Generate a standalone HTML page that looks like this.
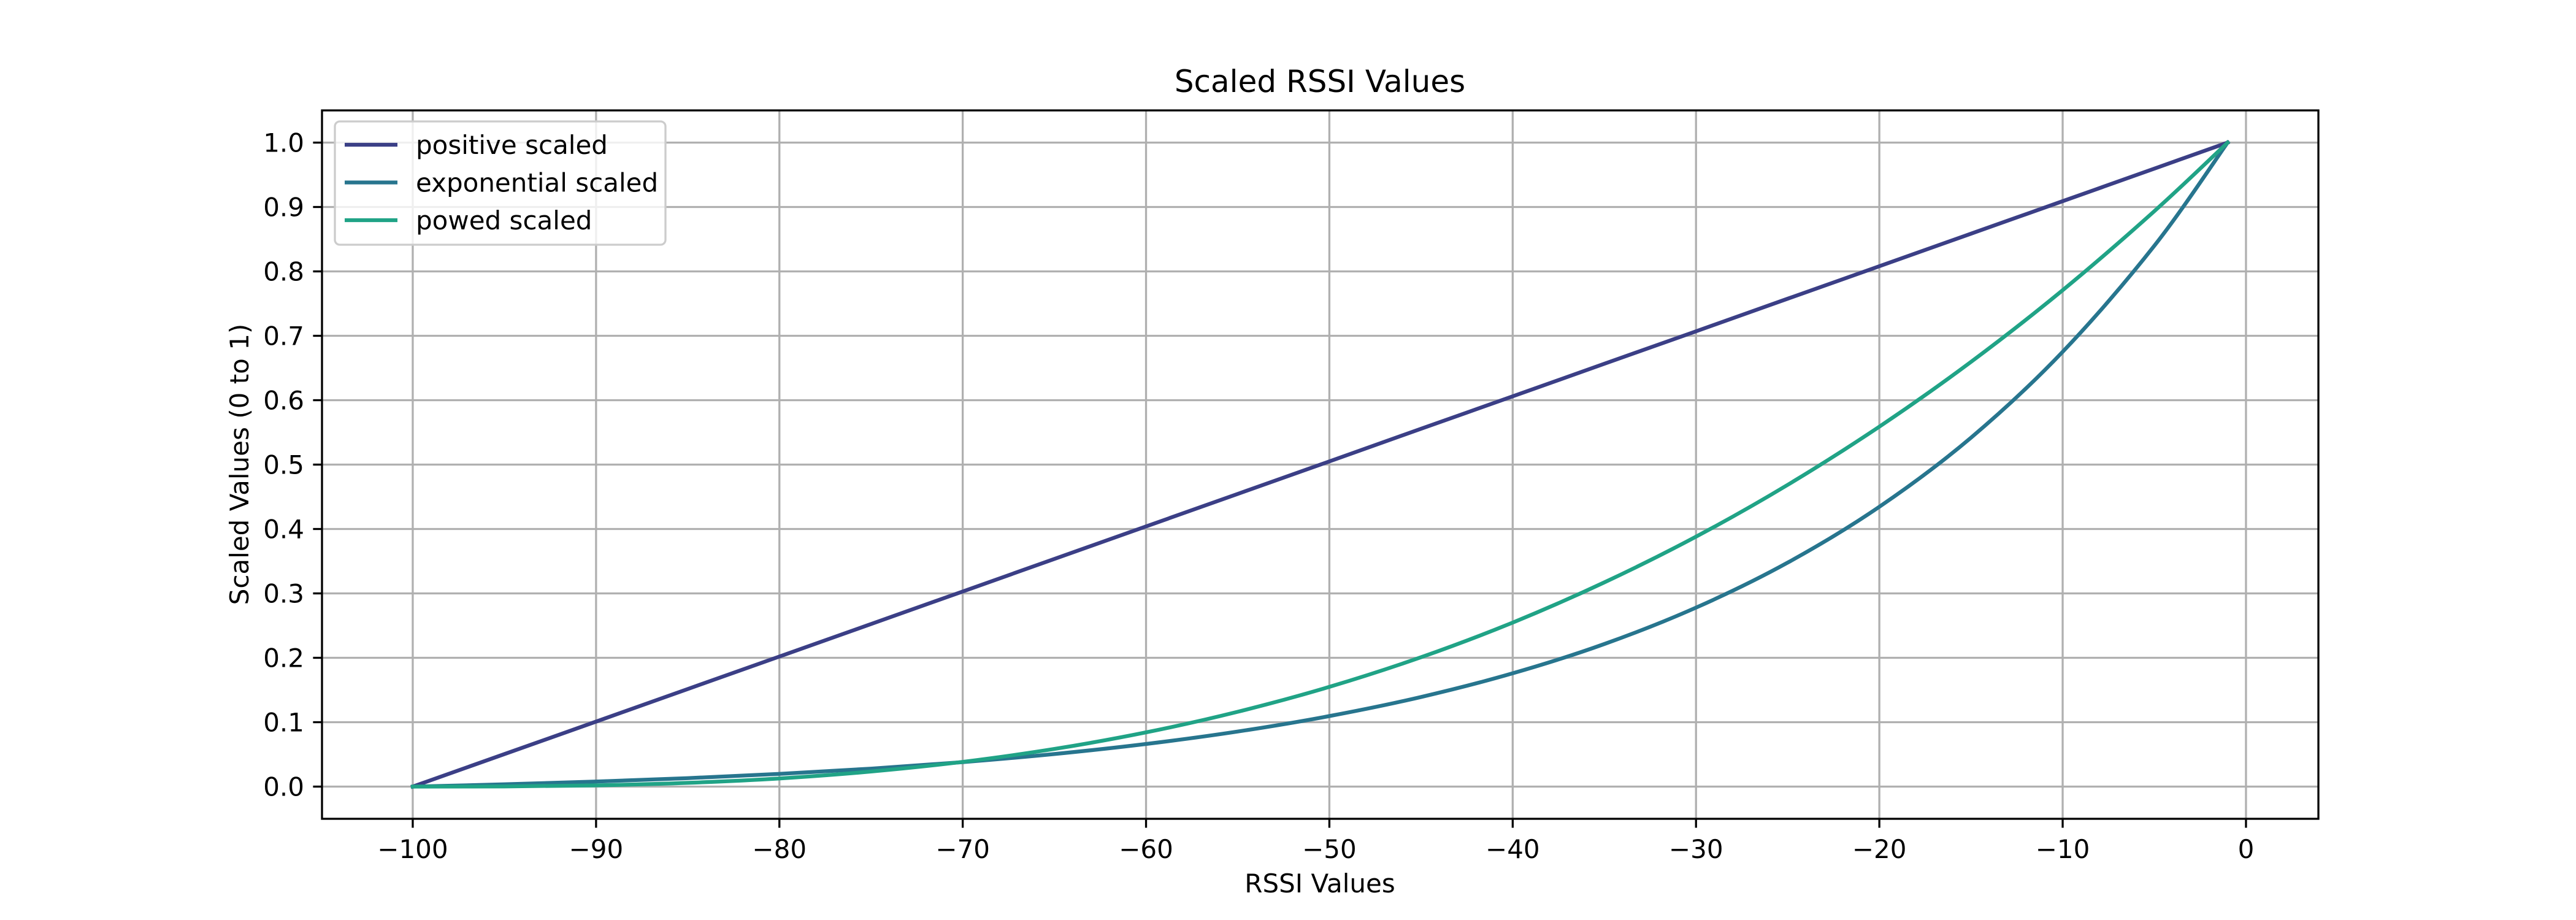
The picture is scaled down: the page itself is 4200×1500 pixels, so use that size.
<!DOCTYPE html>
<html>
<head>
<meta charset="utf-8">
<style>
html,body{margin:0;padding:0;background:#fff;}
svg{display:block;font-family:"DejaVu Sans","Liberation Sans",sans-serif;}
</style>
</head>
<body>
<svg id="chart" width="4200" height="1500" viewBox="0 0 4200 1500" xmlns="http://www.w3.org/2000/svg">
<rect x="0" y="0" width="4200" height="1500" fill="#ffffff"/>
<g id="grid"></g>
<g id="series"></g>
<rect x="525" y="180" width="3255" height="1155" fill="none" stroke="#000" stroke-width="3.3"/>
<g id="xticks"></g>
<g id="yticks"></g>
<text x="2152" y="150" font-size="50" text-anchor="middle">Scaled RSSI Values</text>
<text x="2152" y="1455" font-size="42" text-anchor="middle">RSSI Values</text>
<text x="405" y="757" font-size="42" text-anchor="middle" transform="rotate(-90 405 757)">Scaled Values (0 to 1)</text>
<g id="legend"></g>
</svg>
<script>
const rssi = [-100,-95,-90,-85,-80,-75,-70,-65,-60,-55,-50,-45,-40,-35,-30,-25,-20,-15,-10,-5,-1];
const positiveScaled = [0,0.0505,0.101,0.1515,0.202,0.2525,0.303,0.3535,0.404,0.4545,0.505,0.5556,0.606,0.6566,0.707,0.7576,0.808,0.8586,0.909,0.9596,1];
const exponentialScaled = [0,0.0035,0.0078,0.0131,0.0197,0.0279,0.038,0.0506,0.0662,0.0855,0.1095,0.1391,0.1759,0.2214,0.2779,0.3478,0.4345,0.5418,0.6751,0.8398,1];
const powedScaled = [0,0.0003,0.0019,0.0058,0.0127,0.0234,0.0384,0.0585,0.0842,0.1162,0.1549,0.2009,0.2547,0.3171,0.3881,0.4686,0.5589,0.6595,0.7708,0.8935,1];
const xTickValues = [-100,-90,-80,-70,-60,-50,-40,-30,-20,-10,0];
const yTickValues = [0,0.1,0.2,0.3,0.4,0.5,0.6,0.7,0.8,0.9,1.0];
const seriesNames = ["positive scaled","exponential scaled","powed scaled"];

const NS = "http://www.w3.org/2000/svg";
const L=525,R=3780,T=180,B=1335;
const xmin=-104.95,xmax=3.95,ymin=-0.05,ymax=1.05;
const sx=v=>L+(v-xmin)/(xmax-xmin)*(R-L);
const sy=v=>B-(v-ymin)/(ymax-ymin)*(B-T);
function mk(tag,attrs,parent){const e=document.createElementNS(NS,tag);for(const k in attrs)e.setAttribute(k,attrs[k]);parent.appendChild(e);return e;}
function smoothPath(P){
  let d='M'+P[0][0].toFixed(1)+','+P[0][1].toFixed(1);
  for(let i=0;i<P.length-1;i++){
    const p0=P[i-1]||P[i],p1=P[i],p2=P[i+1],p3=P[i+2]||P[i+1];
    const c1x=p1[0]+(p2[0]-p0[0])/6,c1y=p1[1]+(p2[1]-p0[1])/6;
    const c2x=p2[0]-(p3[0]-p1[0])/6,c2y=p2[1]-(p3[1]-p1[1])/6;
    d+=' C'+c1x.toFixed(1)+','+c1y.toFixed(1)+' '+c2x.toFixed(1)+','+c2y.toFixed(1)+' '+p2[0].toFixed(1)+','+p2[1].toFixed(1);
  }
  return d;
}
const grid=document.getElementById('grid'),xt=document.getElementById('xticks'),yt=document.getElementById('yticks');
xTickValues.forEach(v=>{
  const x=sx(v);
  const g=mk('line',{x1:x,x2:x,y1:T,y2:B,stroke:'#b0b0b0','stroke-width':3.3},grid);
  
  
  const t=mk('line',{x1:x,x2:x,y1:B,y2:B+14.6,stroke:'#000','stroke-width':3.3},xt);
  
  
  const lb=mk('text',{x:x,y:B+64,'font-size':42,'text-anchor':'middle'},xt);
  lb.textContent=v<0?'\u2212'+Math.abs(v):String(v);
  
  
});
yTickValues.forEach(v=>{
  const y=sy(v);
  const g=mk('line',{x1:L,x2:R,y1:y,y2:y,stroke:'#b0b0b0','stroke-width':3.3},grid);
  
  
  const t=mk('line',{x1:L-14.6,x2:L,y1:y,y2:y,stroke:'#000','stroke-width':3.3},yt);
  
  
  const lb=mk('text',{x:L-29,y:y+15,'font-size':42,'text-anchor':'end'},yt);
  lb.textContent=v.toFixed(1);
  
  
});
const colors=['#3b3f86','#27758e','#20a386'];
const data=[positiveScaled,exponentialScaled,powedScaled];
const ser=document.getElementById('series');
data.forEach((arr,i)=>{
  const P=arr.map((v,j)=>[sx(rssi[j]),sy(v)]);
  const p=mk('path',{d:smoothPath(P),fill:'none',stroke:colors[i],'stroke-width':6.25,'stroke-linejoin':'round','stroke-linecap':'square'},ser);
  
  
});
const lg=document.getElementById('legend');
const box=mk('rect',{x:546,y:198,width:539,height:201,rx:8,fill:'#fff','fill-opacity':0.8,stroke:'#cccccc','stroke-width':3.3},lg);


seriesNames.forEach((n,i)=>{
  const y=236+i*61.5;
  const l=mk('line',{x1:562,x2:648,y1:y,y2:y,stroke:colors[i],'stroke-width':6.25},lg);
  
  
  const t=mk('text',{x:678,y:y+15,'font-size':42},lg);
  t.textContent=n;
  
  
});
</script>
</body>
</html>
